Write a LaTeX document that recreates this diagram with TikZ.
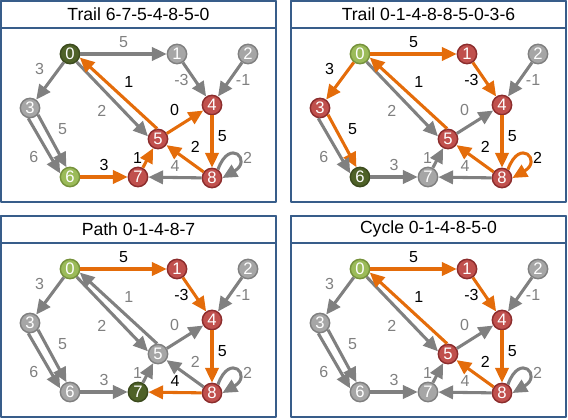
\documentclass[tikz,border=0pt]{standalone}
\usepackage{fontspec}
\setmainfont{Liberation Sans}
\usetikzlibrary{arrows.meta}
\definecolor{hotorange}{RGB}{228,108,10}
\definecolor{coldgray}{RGB}{128,128,128}
\definecolor{panelblue}{RGB}{56,93,138}
\definecolor{vgrayfill}{RGB}{166,166,166}
\definecolor{vgrayline}{RGB}{128,128,128}
\definecolor{vredfill}{RGB}{192,80,77}
\definecolor{vredline}{RGB}{140,45,45}
\definecolor{vlgfill}{RGB}{155,187,89}
\definecolor{vlgline}{RGB}{118,146,60}
\definecolor{vdgfill}{RGB}{79,98,40}
\definecolor{vdgline}{RGB}{60,75,30}
\tikzset{
  vertex/.style={circle,minimum size=14.5pt,inner sep=0pt,line width=1.1pt,text=white,font=\fontsize{12.5}{13}\selectfont},
  grayv/.style={vertex,fill=vgrayfill,draw=vgrayline},
  redv/.style={vertex,fill=vredfill,draw=vredline},
  startv/.style={vertex,fill=vlgfill,draw=vlgline},
  endv/.style={vertex,fill=vdgfill,draw=vdgline},
  cold/.style={draw=coldgray,text=coldgray},
  hot/.style={draw=hotorange,text=black},
  arc/.style={line width=2.3pt,-{Triangle[length=11pt,width=10pt]},font=\fontsize{12}{13}\selectfont},
  titlebox/.style={draw=panelblue,line width=1.5pt,fill=white,minimum width=206pt,minimum height=20pt,inner sep=0pt,font=\fontsize{13.2}{15}\selectfont},
  panelframe/.style={draw=panelblue,line width=1pt},
  v0/.style=grayv,v1/.style=grayv,v2/.style=grayv,v3/.style=grayv,v4/.style=grayv,
  v5/.style=grayv,v6/.style=grayv,v7/.style=grayv,v8/.style=grayv,
  e01/.style=cold,e03/.style=cold,e05/.style=cold,e50/.style=cold,e14/.style=cold,
  e24/.style=cold,e36a/.style=cold,e36b/.style=cold,e54/.style=cold,e48/.style=cold,
  e85/.style=cold,e87/.style=cold,e75/.style=cold,e67/.style=cold,e88/.style=cold
}
\newcommand{\drawgraph}[1]{%
  \draw[panelframe] (1,-1) rectangle (276,-202);
  \node[titlebox] (title) at (138.5,-14.3) {#1};
  \node[v0] (n0) at (70,-54) {0};
  \node[v1] (n1) at (177,-54) {1};
  \node[v2] (n2) at (248,-54) {2};
  \node[v3] (n3) at (30,-108) {3};
  \node[v4] (n4) at (212,-105) {4};
  \node[v5] (n5) at (158,-139) {5};
  \node[v6] (n6) at (70,-177) {6};
  \node[v7] (n7) at (138,-177) {7};
  \node[v8] (n8) at (212,-178) {8};
  \draw[arc,e01] (n0)--node[above]{5}(n1);
  \draw[arc,e03] (n0)--node[above left]{3}(n3);
  \draw[arc,e05] (n0.-50)--node[below left]{2}(n5.165);
  \draw[arc,e50] (n5.95)--node[above right]{1}(n0.-20);
  \draw[arc,e14] (n1)--node[left]{-3}(n4);
  \draw[arc,e24] (n2)--node[right]{-1}(n4);
  \draw[arc,e36a] (n3.-40)--node[above right]{5}(n6.110);
  \draw[arc,e36b] (n3.-100)--node[below left]{6}(n6.160);
  \draw[arc,e54] (n5)--node[above left]{0}(n4);
  \draw[arc,e48] (n4)--node[pos=0.4,right]{5}(n8);
  \draw[arc,e85] (n8)--node[above right]{2}(n5);
  \draw[arc,e87] (n8)--node[above]{4}(n7);
  \draw[arc,e75] (n7)--node[left]{1}(n5);
  \draw[arc,e67] (n6)--node[above]{3}(n7);
  \draw[arc,e88] (n8.55) .. controls +(70:26pt) and +(30:26pt) .. node[pos=0.6,right]{2} (n8.0);
}
\begin{document}
\begin{tikzpicture}[x=0.75pt,y=0.75pt,line join=round]
\useasboundingbox (0,0) rectangle (568,-420);
\begin{scope}[v6/.style=startv,v0/.style=endv,v4/.style=redv,v5/.style=redv,v7/.style=redv,v8/.style=redv,
  e67/.style=hot,e75/.style=hot,e54/.style=hot,e48/.style=hot,e85/.style=hot,e50/.style=hot]
\drawgraph{Trail 6-7-5-4-8-5-0}
\end{scope}
\begin{scope}[shift={(290,0)},v0/.style=startv,v6/.style=endv,v1/.style=redv,v3/.style=redv,v4/.style=redv,v5/.style=redv,v8/.style=redv,
  e01/.style=hot,e14/.style=hot,e48/.style=hot,e88/.style=hot,e85/.style=hot,e50/.style=hot,e03/.style=hot,e36a/.style=hot]
\drawgraph{Trail 0-1-4-8-8-5-0-3-6}
\end{scope}
\begin{scope}[shift={(0,-215)},v0/.style=startv,v7/.style=endv,v1/.style=redv,v4/.style=redv,v8/.style=redv,
  e01/.style=hot,e14/.style=hot,e48/.style=hot,e87/.style=hot]
\drawgraph{Path 0-1-4-8-7}
\end{scope}
\begin{scope}[shift={(290,-215)},v0/.style=startv,v1/.style=redv,v4/.style=redv,v8/.style=redv,v5/.style=redv,
  e01/.style=hot,e14/.style=hot,e48/.style=hot,e85/.style=hot,e50/.style=hot]
\drawgraph{Cycle 0-1-4-8-5-0}
\end{scope}
\end{tikzpicture}
\end{document}
